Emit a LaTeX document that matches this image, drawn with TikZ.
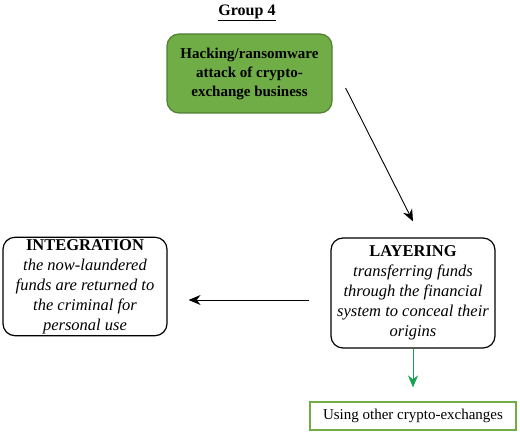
\documentclass[tikz,border=0pt]{standalone}
\usepackage{fontspec}
\setmainfont{Liberation Serif}[ItalicFont={Liberation Serif Italic},BoldFont={Liberation Serif Bold}]
\usetikzlibrary{arrows.meta,positioning}
\definecolor{hackgreen}{HTML}{70AD47}
\definecolor{hackedge}{HTML}{507E32}
\definecolor{linkgreen}{HTML}{16A050}

\begin{document}
\begin{tikzpicture}[x=1pt,y=1pt,
    stagebox/.style={draw,line width=1.2pt,rounded corners=12pt,align=center,
        font=\fontsize{16.5}{20}\selectfont,inner sep=2pt},
    ->,>={Stealth[length=12pt,width=10pt]},line width=0.9pt]
       \useasboundingbox (0,0) rectangle (520,433);
       \node [font=\bfseries\fontsize{16}{18}\selectfont] (title) at (247,420) {\underline{Group 4}};
       \node [stagebox, fill=hackgreen, draw=hackedge, font=\bfseries\fontsize{15}{19}\selectfont,
              minimum width=165pt, minimum height=79pt] (hack) at (249.5,359.5)
              {Hacking/ransomware\\attack of crypto-\\exchange business};
       \node [stagebox, minimum width=164pt, minimum height=110pt] (layer) at (413,140)
              {\textbf{LAYERING}\\\textit{transferring funds}\\\textit{through the financial}\\\textit{system to conceal their}\\\textit{origins}};
       \node [stagebox, minimum width=164pt, minimum height=97pt] (integ) at (85,146.5)
              {\textbf{INTEGRATION}\\\textit{the now-laundered}\\\textit{funds are returned to}\\\textit{the criminal for}\\\textit{personal use}};
       \node [draw=hackgreen, line width=1.2pt, font=\fontsize{15}{18}\selectfont,
              minimum width=206pt, minimum height=28pt] (other) at (413,17) {Using other crypto-exchanges};
        \draw ([xshift=13pt,yshift=-14.5pt]hack.east) -- ([yshift=16pt]layer.north);
        \draw [shorten <=21pt, shorten >=21pt] ([yshift=-7pt]layer.west) -- ([yshift=-7pt]layer.west -| integ.east);
        \draw [linkgreen, shorten >=14pt] (layer.south) -- (other.north);
    \end{tikzpicture}
\end{document}
